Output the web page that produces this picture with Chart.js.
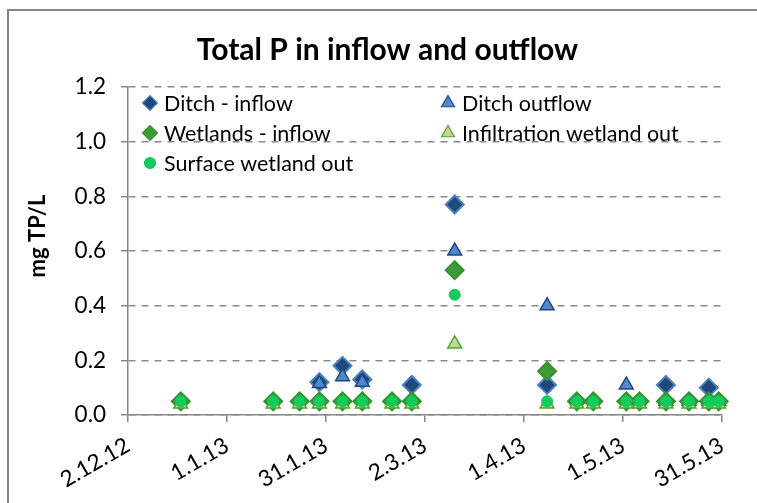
<!DOCTYPE html>
<html>
<head>
<meta charset="utf-8">
<script src="https://cdn.jsdelivr.net/npm/chart.js@4/dist/chart.umd.min.js"></script>
<style>
  html, body { margin: 0; padding: 0; background: #fff; }
  #wrap { width: 757px; height: 503px; }
</style>
</head>
<body>
<div id="wrap"><canvas id="tpChart" width="757" height="503"></canvas></div>
<script>
// sampling dates (day.month.year in the picture)
const sampleDates = [
  '2012-12-18', '2013-01-15', '2013-01-23', '2013-01-29', '2013-02-05', '2013-02-11',
  '2013-02-20', '2013-02-26', '2013-03-11', '2013-04-08', '2013-04-17', '2013-04-22',
  '2013-05-02', '2013-05-06', '2013-05-14', '2013-05-21', '2013-05-27', '2013-05-30'
];

// mg TP/L, null = no sample
const ditchInflow   = [null, null, null, 0.12, 0.18, 0.13, null, 0.11, 0.77, 0.11, null, null, null, null, 0.11, null, 0.10, null];
const ditchOutflow  = [null, null, null, 0.115, 0.14, 0.12, null, null, 0.60, 0.40, null, null, 0.11, null, 0.05, 0.05, 0.05, 0.05];
const wetlandInflow = [0.05, 0.05, 0.05, 0.05, 0.05, 0.05, 0.05, 0.05, 0.53, 0.16, 0.05, 0.05, 0.05, 0.05, 0.05, 0.05, 0.05, 0.05];
const infiltrOut    = [0.04, 0.04, 0.04, 0.04, 0.04, 0.04, 0.04, 0.04, 0.26, 0.04, 0.04, 0.04, 0.04, 0.04, 0.04, 0.04, 0.04, 0.04];
const surfaceOut    = [0.05, 0.05, 0.05, 0.05, 0.05, 0.05, 0.05, 0.05, 0.44, 0.05, 0.05, 0.05, 0.05, 0.05, 0.05, 0.05, 0.05, 0.05];

// x axis: days counted from the first tick, ticks every 30 days
const axisStart = '2012-12-02';
const axisDays = 180;
const tickStep = 30;

const DAY = 86400000;
const t0 = Date.parse(axisStart + 'T00:00:00Z');
const toDay = s => Math.round((Date.parse(s + 'T00:00:00Z') - t0) / DAY);
const dayLabel = d => {
  const dt = new Date(t0 + d * DAY);
  return dt.getUTCDate() + '.' + (dt.getUTCMonth() + 1) + '.' + String(dt.getUTCFullYear()).slice(2);
};
const points = vals => sampleDates.map((s, i) => ({x: toDay(s), y: vals[i]})).filter(p => p.y !== null);

const FONT = 'Lato';
const gray = '#868686';

const frame = {
  id: 'frame',
  beforeDraw(chart) {
    const ctx = chart.ctx;
    ctx.save();
    ctx.fillStyle = '#fff';
    ctx.fillRect(0, 0, chart.width, chart.height);
    ctx.strokeStyle = gray;
    ctx.lineWidth = 2;
    ctx.beginPath();
    ctx.moveTo(8, chart.height + 5);
    ctx.lineTo(8, 10);
    ctx.lineTo(chart.width + 5, 10);
    ctx.stroke();
    // y axis title
    ctx.translate(38, 236);
    ctx.rotate(-Math.PI / 2);
    ctx.fillStyle = '#000';
    ctx.font = 'bold 22px ' + FONT;
    ctx.textAlign = 'center';
    ctx.textBaseline = 'middle';
    ctx.fillText('mg TP/L', 0, 0);
    ctx.restore();
  }
};

// two-column legend inside the plot
const insideLegend = {
  id: 'insideLegend',
  afterDatasetsDraw(chart) {
    const ctx = chart.ctx;
    const slots = [[150, 103], [448, 103], [150, 133], [448, 133], [150, 163]];
    chart.data.datasets.forEach((ds, i) => {
      const [x, y] = slots[i];
      ctx.save();
      ctx.fillStyle = ds.backgroundColor;
      ctx.strokeStyle = ds.borderColor;
      ctx.lineWidth = 1.2;
      Chart.helpers.drawPoint(ctx, {
        pointStyle: ds.pointStyle,
        radius: ds.pointStyle === 'circle' ? 5.5 : 7.5,
        rotation: 0,
        borderWidth: 1.2
      }, x, y);
      ctx.fillStyle = '#000';
      ctx.font = '21.5px ' + FONT;
      ctx.textAlign = 'left';
      ctx.textBaseline = 'middle';
      ctx.fillText(ds.label, x + 14, y + 1);
      ctx.restore();
    });
  }
};

new Chart(document.getElementById('tpChart'), {
  type: 'scatter',
  data: {
    datasets: [{
      label: 'Ditch - inflow',
      data: points(ditchInflow),
      pointStyle: 'rectRot',
      pointRadius: 9,
      borderWidth: 2,
      backgroundColor: '#1f497d',
      borderColor: '#4f81bd',
      clip: false,
      order: 5
    }, {
      label: 'Ditch outflow',
      data: points(ditchOutflow),
      pointStyle: 'triangle',
      pointRadius: 8,
      borderWidth: 1.5,
      backgroundColor: '#5187cf',
      borderColor: '#1f497d',
      clip: false,
      order: 4
    }, {
      label: 'Wetlands - inflow',
      data: points(wetlandInflow),
      pointStyle: 'rectRot',
      pointRadius: 9,
      borderWidth: 2,
      backgroundColor: '#3c9b34',
      borderColor: '#36922e',
      clip: false,
      order: 3
    }, {
      label: 'Infiltration wetland out',
      data: points(infiltrOut),
      pointStyle: 'triangle',
      pointRadius: 8,
      borderWidth: 1.5,
      backgroundColor: '#c3d69b',
      borderColor: '#4ea72e',
      clip: false,
      order: 2
    }, {
      label: 'Surface wetland out',
      data: points(surfaceOut),
      pointStyle: 'circle',
      pointRadius: 5.5,
      borderWidth: 1,
      backgroundColor: '#12cd5e',
      borderColor: '#12c35a',
      clip: false,
      order: 1
    }]
  },
  options: {
    responsive: false,
    animation: false,
    events: [],
    layout: { padding: { left: 53, right: 35, top: 0, bottom: 0 } },
    plugins: {
      legend: { display: false },
      tooltip: { enabled: false },
      title: {
        display: true,
        text: 'Total P in inflow and outflow',
        color: '#000',
        font: { family: FONT, size: 30, weight: 'bold', lineHeight: 1.2 },
        padding: { top: 32, bottom: 19 }
      }
    },
    scales: {
      x: {
        type: 'linear',
        min: 0,
        max: axisDays,
        afterFit: s => { s.height = 88; },
        ticks: {
          stepSize: tickStep,
          minRotation: 30,
          maxRotation: 30,
          padding: 10,
          color: '#000',
          font: { family: FONT, size: 22.5 },
          callback: v => dayLabel(v)
        },
        grid: { drawOnChartArea: false, drawTicks: true, tickLength: 7, color: gray, lineWidth: 1.5 },
        border: { color: gray, width: 1.5 }
      },
      y: {
        min: 0,
        max: 1.2,
        afterFit: s => { s.width = 75; },
        ticks: {
          stepSize: 0.2,
          padding: 15,
          color: '#000',
          font: { family: FONT, size: 22.5 },
          callback: v => v.toFixed(1)
        },
        grid: { color: '#8a8a8a', lineWidth: 1.5, drawTicks: true, tickLength: 7, tickColor: gray, tickBorderDash: [] },
        border: { color: gray, width: 1.5, dash: [7, 6] }
      }
    }
  },
  plugins: [frame, insideLegend]
});
</script>
</body>
</html>
